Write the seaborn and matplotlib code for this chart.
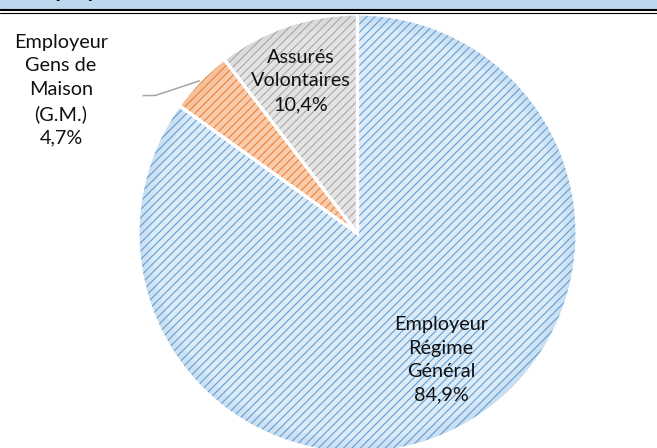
import matplotlib
matplotlib.use("Agg")
import matplotlib.pyplot as plt
from matplotlib.patches import Rectangle, Wedge
from matplotlib.lines import Line2D
import numpy as np
import seaborn as sns

# Répartition des cotisants par catégorie (%)
categories = ["Employeur\nRégime\nGénéral", "Employeur\nGens de\nMaison\n(G.M.)", "Assurés\nVolontaires"]
values = [84.9, 4.7, 10.4]

fill_colors = ["#DDEBF7", "#F8CBAD", "#E4E4E4"]
hatch_colors = ["#5B9BD5", "#ED7D31", "#A5A5A5"]
# label centres in data units (pie radius = 1)
label_pos = [(0.38, -0.576), (-1.351, 0.654), (-0.257, 0.695)]

sns.set_theme(style="white")
plt.rcParams["font.family"] = ["Lato", "DejaVu Sans"]
plt.rcParams["hatch.linewidth"] = 0.75

W, H = 657, 448
fig = plt.figure(figsize=(W / 100, H / 100), dpi=100)
fig.patch.set_facecolor("white")

# header band with double rule
fig.add_artist(Rectangle((0, 1 - 9 / H), 1, 9 / H, transform=fig.transFigure,
                         facecolor="#BDD7EE", edgecolor="none"))
fig.add_artist(Line2D([0, 1], [1 - 10 / H] * 2, transform=fig.transFigure,
                      color="black", lw=1.5))
fig.add_artist(Line2D([0, 1], [1 - 12.7 / H] * 2, transform=fig.transFigure,
                      color="black", lw=0.8))
fig.text(24 / W, 1 + 2.5 / H, "Employeurs", fontsize=16, fontweight="bold",
         color="black", va="baseline", ha="left")

cx, cy, r = 357.5, 233.5, 219.5
ax = fig.add_axes([(cx - r) / W, (H - cy - r) / H, 2 * r / W, 2 * r / H])

wedges, _ = ax.pie(values, colors=fill_colors, startangle=90, counterclock=False,
                   radius=1, center=(0, 0))
for w, hc in zip(wedges, hatch_colors):
    w.set_edgecolor(hc)
    w.set_linewidth(0)
    w.set_hatch("////")

# soft shading toward the rim
for w, hc in zip(wedges, hatch_colors):
    for k in range(10):
        ax.add_patch(Wedge((0, 0), 1 - k * 0.006, w.theta1, w.theta2, width=0.006,
                           facecolor=hc, edgecolor="none", alpha=0.05 + 0.012 * (10 - k)))

# white separators between slices
ax.pie(values, startangle=90, counterclock=False, radius=1, center=(0, 0),
       wedgeprops=dict(fill=False, edgecolor="white", linewidth=2.3))

for name, v, (lx, ly) in zip(categories, values, label_pos):
    txt = name + "\n" + f"{v:.1f}".replace(".", ",") + "%"
    ax.text(lx, ly, txt, ha="center", va="center", fontsize=14.3,
            color="#111111", linespacing=1.47)

# leader line for the small slice
w = wedges[1]
mid = np.deg2rad((w.theta1 + w.theta2) / 2)
ex, ey = np.cos(mid), np.sin(mid)
ax.plot([ex, -0.921, -0.979], [ey, 0.629, 0.628], color="#A6A6A6", lw=1.1,
        solid_capstyle="butt", clip_on=False)

ax.set_xlim(-1, 1)
ax.set_ylim(-1, 1)
ax.set_aspect("equal")
ax.axis("off")

fig.savefig("out.png", dpi=100, facecolor="white")
